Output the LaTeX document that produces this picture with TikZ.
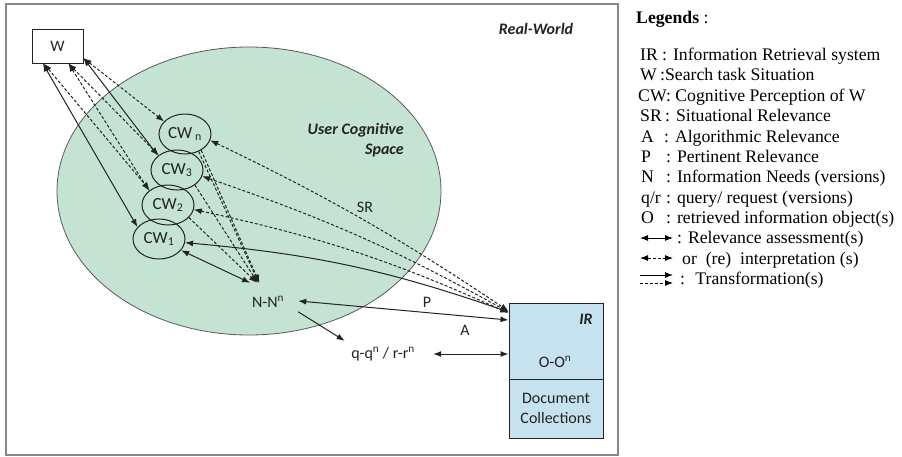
\documentclass[tikz,border=0pt]{standalone}
\usepackage{fontspec}
\setmainfont{Carlito}
\newfontfamily\lgd{Liberation Serif}
\usetikzlibrary{arrows.meta,shapes.geometric}
\definecolor{ucsgreen}{RGB}{197,227,210}
\definecolor{irblue}{RGB}{198,226,238}
\definecolor{framegray}{RGB}{135,135,135}
\definecolor{ink}{RGB}{35,35,35}
\begin{document}
\begin{tikzpicture}[x=1pt,y=-1pt,
  lab/.style={font=\fontsize{16}{20}\selectfont, text=ink},
  bilab/.style={font=\fontsize{16}{20}\selectfont\bfseries\itshape, text=ink},
  cw/.style={ellipse, draw=ink, line width=1pt, minimum width=52, minimum height=40, inner sep=0pt, font=\fontsize{17}{20}\selectfont, text=ink},
  tip/.style={-{Latex[length=8pt,width=6pt]}},
  both/.style={{Latex[length=8pt,width=6pt]}-{Latex[length=8pt,width=6pt]}},
  conn/.style={draw=ink, line width=1pt},
  dsh/.style={dash pattern=on 3pt off 2pt},
  leg/.style={font=\lgd\fontsize{17.7}{20}\selectfont, anchor=base west, inner sep=0pt, text=black},
]
\useasboundingbox (0,0) rectangle (902,456);
\fill[white] (0,0) rectangle (902,456);
% frame
\draw[framegray, line width=2pt] (6,4) rectangle (618,455);
\node[bilab] (rw) at (536,29) {Real-World};
% user cognitive space
\node[ellipse, fill=ucsgreen, draw=ink!75, line width=0.8pt, minimum width=384, minimum height=288] (ucs) at (249,191) {};
\node[bilab, align=right, anchor=north east, inner sep=0pt] (ucslab) at (404,123) {User Cognitive\\Space};
% W
\node[draw=ink, fill=white, line width=1pt, minimum width=51, minimum height=34, inner sep=0pt, lab] (W) at (57.5,46) {W};
% CW ellipses
\node[cw] (cwn) at (185,134) {CW\,\textsubscript{n}};
\node[cw] (cw3) at (177,170) {CW\textsubscript{3}};
\node[cw] (cw2) at (168,205) {CW\textsubscript{2}};
\node[cw] (cw1) at (159,239) {CW\textsubscript{1}};
% N and q
\node[lab, minimum width=60, minimum height=38, inner sep=0pt] (N) at (268,302) {N-N\textsuperscript{n}};
\node[lab, minimum width=100, minimum height=26, inner sep=0pt] (q) at (383,354) {q-q\textsuperscript{n} / r-r\textsuperscript{n}};
% IR
\node[draw=ink, fill=irblue, line width=1pt, minimum width=94, minimum height=76, inner sep=0pt] (IR) at (556,341) {};
\node[draw=ink, fill=irblue, line width=1pt, minimum width=94, minimum height=59, inner sep=0pt, lab, align=center] (doc) at (556,408.5) {Document\\Collections};
\node[bilab] (irlab) at (586,319) {IR};
\node[lab] (O) at (555,362) {O-O\textsuperscript{n}};
% labels
\node[lab] (SRlab) at (365,207) {SR};
\node[lab] (Plab) at (427,302) {P};
\node[lab] (Alab) at (465,330) {A};
% W <-> CW
\draw[conn, both] (W.230) -- (cw1.151);
\draw[conn, both, dsh] (W.232) -- (cw2.141);
\draw[conn, both, dsh] (W.302) -- (cw2.143);
\draw[conn, both, dsh] (W.302) -- (cw3.141);
\draw[conn, both] (W.335) -- (cw3.143);
\draw[conn, both, dsh] (W.335) -- (cwn.149);
% CW -> N
\draw[conn, tip, dsh] (cwn.-52) -- (N.116);
\draw[conn, tip, dsh] (cwn.-45) -- (N.114);
\draw[conn, tip, dsh] (cw3.-40) -- (N.118);
\draw[conn, tip, dsh] (cw2.-31) -- (N.120);
\draw[conn, both] (cw1.-27) -- (N.133);
% SR to IR
\draw[conn, both, dsh] (cwn.-14) to[bend left=4] ([yshift=30pt]IR.west);
\draw[conn, both, dsh] (cw3.-14) to[bend left=5] ([yshift=29pt]IR.west);
\draw[conn, both, dsh] (cw2.-10) to[bend left=6] ([yshift=28pt]IR.west);
\draw[conn, both] (cw1.-8) to[bend left=7] ([yshift=29pt]IR.west);
% P, A
\draw[conn, both] (N.2) -- ([yshift=21pt]IR.west);
\draw[conn, tip] (N.-18) -- (q.161);
\draw[conn, both] (q.0) -- ([yshift=-13pt]IR.west);
% legend
\node[font=\lgd\fontsize{17.7}{20}\selectfont, anchor=base west, inner sep=0pt] (legT) at (636,23) {\textbf{Legends} :};
\node[leg] (l1a) at (640,60.5) {IR};   \node[leg] (l1b) at (662,60.5) {: Information Retrieval system};
\node[leg] (l2a) at (640,80.9) {W};  \node[leg] (l2b) at (660,80.9) {:Search task Situation};
\node[leg] (l3a) at (638,101.3) {CW: Cognitive Perception of W};
\node[leg] (l4a) at (640,121.6) {SR}; \node[leg] (l4b) at (665,121.6) {: Situational Relevance};
\node[leg] (l5a) at (641,142) {A};  \node[leg] (l5b) at (664,142) {: Algorithmic Relevance};
\node[leg] (l6a) at (641,162.4) {P};  \node[leg] (l6b) at (666,162.4) {: Pertinent Relevance};
\node[leg] (l7a) at (641,182.8) {N};  \node[leg] (l7b) at (666,182.8) {: Information Needs (versions)};
\node[leg] (l8a) at (641,203.1) {q/r}; \node[leg] (l8b) at (666,203.1) {: query/ request (versions)};
\node[leg] (l9a) at (641,223.5) {O};    \node[leg] (l9b) at (666,223.5) {: retrieved information object(s)};
\node[leg] (l10b) at (677,243.9) {: Relevance assessment(s)};
\node[leg] (l11b) at (682,264.3) {or \ (re) \ interpretation (s)};
\node[leg] (l12b) at (680,284.6) {: \ Transformation(s)};
\coordinate (a1l) at (640,238); \coordinate (a1r) at (673,238);
\coordinate (a2l) at (640,258); \coordinate (a2r) at (673,258);
\coordinate (a3l) at (640,275); \coordinate (a3r) at (673,275);
\coordinate (a4l) at (640,283); \coordinate (a4r) at (673,283);
\draw[conn, both, draw=black] (a1l) -- (a1r);
\draw[conn, both, dsh, draw=black] (a2l) -- (a2r);
\draw[conn, tip, draw=black] (a3l) -- (a3r);
\draw[conn, tip, dsh, draw=black] (a4l) -- (a4r);
\end{tikzpicture}
\end{document}
